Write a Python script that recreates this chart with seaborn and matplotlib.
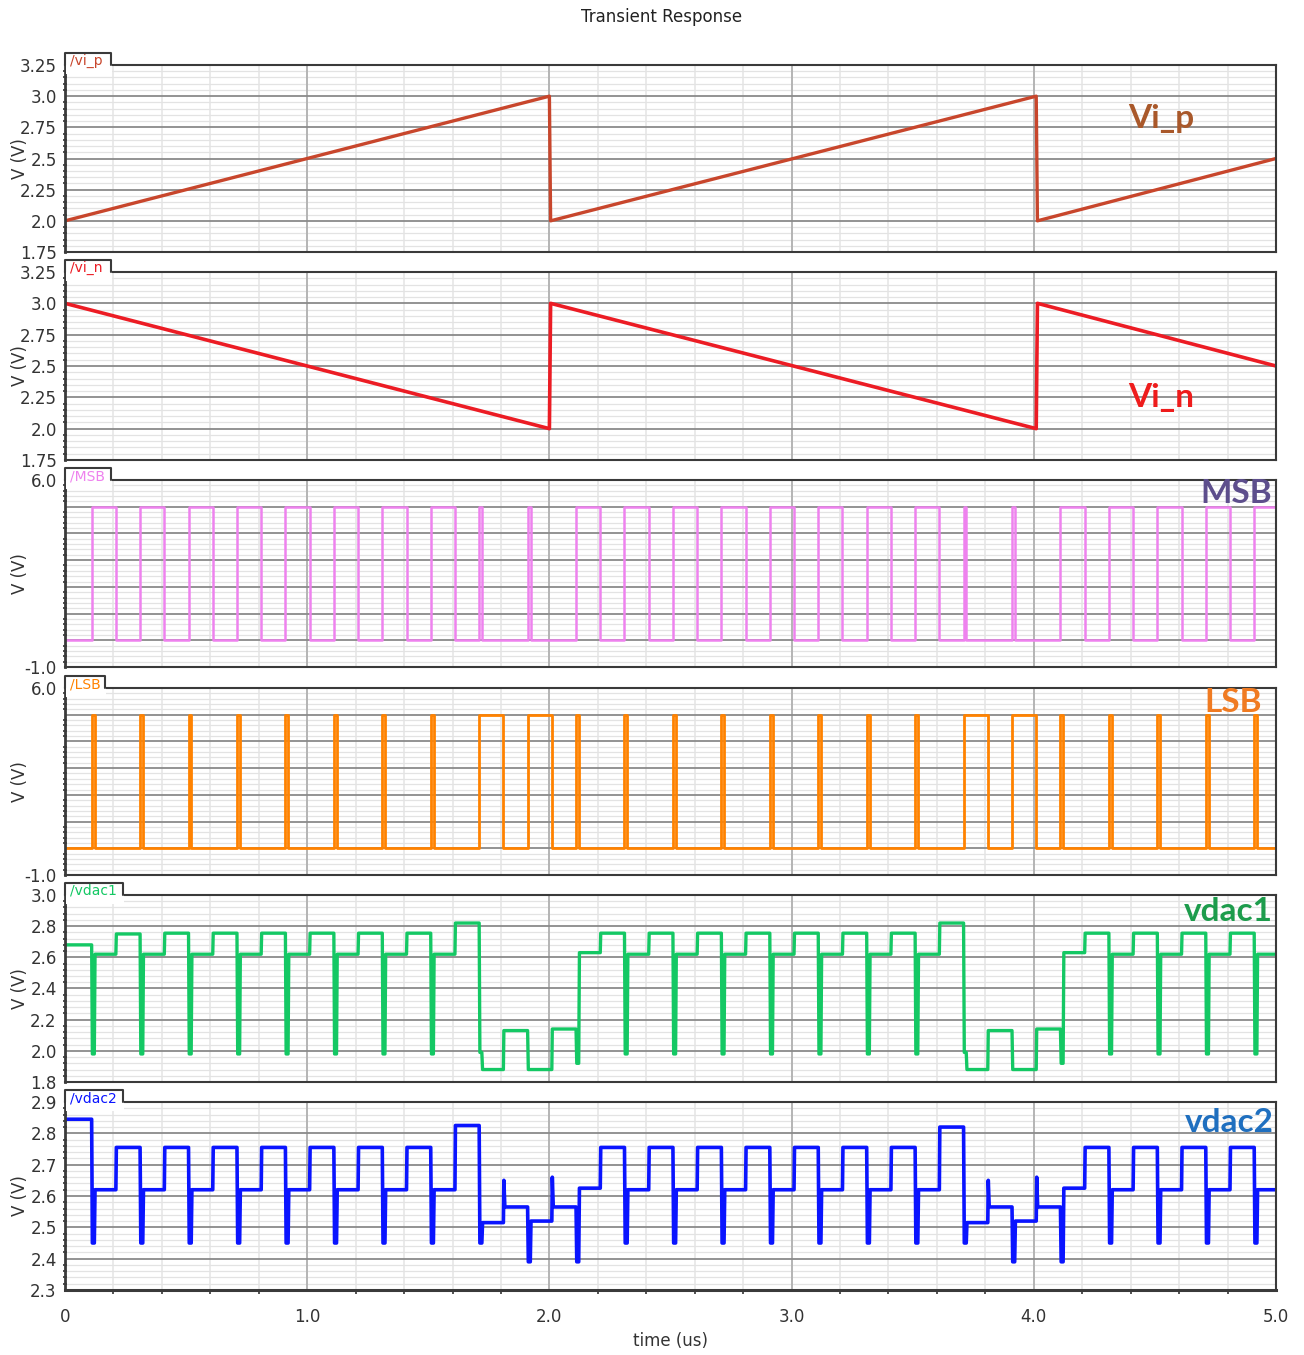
#!/usr/bin/env python3

import matplotlib
matplotlib.use('Agg')
import matplotlib.pyplot as plt
from matplotlib.patches import Rectangle
from matplotlib.ticker import FixedLocator, FixedFormatter, MultipleLocator
import seaborn as sns

# ramp inputs (us, V)
ramp_t = [0.0, 2.0, 2.005, 4.01, 4.015, 5.0]
vi_p = [2.0, 3.0, 2.0, 3.0, 2.0, 2.5]
vi_n = [3.0, 2.0, 3.0, 2.0, 3.0, 2.5]

# conversion instants (us) and the decided bits per cycle
cycle_t = [0.11, 0.31, 0.51, 0.71, 0.91, 1.11, 1.31, 1.51, 1.71, 1.91,
           2.11, 2.31, 2.51, 2.71, 2.91, 3.11, 3.31, 3.51, 3.71, 3.91,
           4.11, 4.31, 4.51, 4.71, 4.91]
msb_bits = [1, 1, 1, 1, 1, 1, 1, 1, 0, 0,
            1, 1, 1, 1, 1, 1, 1, 1, 0, 0,
            1, 1, 1, 1, 1]
lsb_bits = [0, 0, 0, 0, 0, 0, 0, 0, 1, 1,
            0, 0, 0, 0, 0, 0, 0, 0, 1, 1,
            0, 0, 0, 0, 0]

# dac outputs: level after the MSB step (a), after the LSB step (b), dip depth
vdac1_start = 2.68
vdac1_a = [2.62, 2.62, 2.62, 2.62, 2.62, 2.62, 2.62, 2.62, 1.88, 1.88,
           2.63, 2.62, 2.62, 2.62, 2.62, 2.62, 2.62, 2.62, 1.88, 1.88,
           2.63, 2.62, 2.62, 2.62, 2.62]
vdac1_b = [2.75, 2.755, 2.755, 2.755, 2.755, 2.755, 2.755, 2.82, 2.13, 2.14,
           2.755, 2.755, 2.755, 2.755, 2.755, 2.755, 2.755, 2.82, 2.13, 2.14,
           2.755, 2.755, 2.755, 2.755, 2.755]
vdac1_dip = [1.98, 1.98, 1.98, 1.98, 1.98, 1.98, 1.98, 1.98, 1.99, 1.88,
             1.92, 1.98, 1.98, 1.98, 1.98, 1.98, 1.98, 1.98, 1.99, 1.88,
             1.92, 1.98, 1.98, 1.98, 1.98]

vdac2_start = 2.845
vdac2_a = [2.62, 2.62, 2.62, 2.62, 2.62, 2.62, 2.62, 2.62, 2.515, 2.52,
           2.625, 2.62, 2.62, 2.62, 2.62, 2.62, 2.62, 2.62, 2.515, 2.52,
           2.625, 2.62, 2.62, 2.62, 2.62]
vdac2_b = [2.755, 2.755, 2.755, 2.755, 2.755, 2.755, 2.755, 2.825, 2.565, 2.565,
           2.755, 2.755, 2.755, 2.755, 2.755, 2.755, 2.755, 2.82, 2.565, 2.565,
           2.755, 2.755, 2.755, 2.755, 2.755]
vdac2_dip = [2.45, 2.45, 2.45, 2.45, 2.45, 2.45, 2.45, 2.45, 2.45, 2.39,
             2.39, 2.45, 2.45, 2.45, 2.45, 2.45, 2.45, 2.45, 2.45, 2.39,
             2.39, 2.45, 2.45, 2.45, 2.45]
vdac2_kick = [2.755, 2.755, 2.755, 2.755, 2.755, 2.755, 2.755, 2.825, 2.65, 2.66,
              2.755, 2.755, 2.755, 2.755, 2.755, 2.755, 2.755, 2.82, 2.65, 2.66,
              2.755, 2.755, 2.755, 2.755, 2.755]

# axis ticks
x_ticks = [0, 1, 2, 3, 4, 5]
x_ticklabels = ['0', '1.0', '2.0', '3.0', '4.0', '5.0']
vi_ticks = [1.75, 2.0, 2.25, 2.5, 2.75, 3.0, 3.25]
vi_ticklabels = ['1.75', '2.0', '2.25', '2.5', '2.75', '3.0', '3.25']
bit_ticks = [-1, 0, 1, 2, 3, 4, 5, 6]
bit_ticklabels = ['-1.0', '', '', '', '', '', '', '6.0']
vdac1_ticks = [1.8, 2.0, 2.2, 2.4, 2.6, 2.8, 3.0]
vdac1_ticklabels = ['1.8', '2.0', '2.2', '2.4', '2.6', '2.8', '3.0']
vdac2_ticks = [2.3, 2.4, 2.5, 2.6, 2.7, 2.8, 2.9]
vdac2_ticklabels = ['2.3', '2.4', '2.5', '2.6', '2.7', '2.8', '2.9']


def bit_wave(bits, hi=5.0, lo=0.0, hold=0.1, glitch=0.012):
    t, v = [0.0], [lo]
    for t0, b in zip(cycle_t, bits):
        w = hold if b else glitch
        t += [t0, t0, t0 + w, t0 + w]
        v += [lo, hi, hi, lo]
    t.append(5.1)
    v.append(lo)
    return t, v


def dac_wave(start, a, b, dip, kick):
    t, v = [0.0], [start]
    prev = start
    for i, t0 in enumerate(cycle_t):
        t += [t0, t0 + 0.003, t0 + 0.011, t0 + 0.014]
        v += [prev, dip[i], dip[i], a[i]]
        t1 = t0 + 0.1
        t += [t1, t1 + 0.002, t1 + 0.006]
        v += [a[i], kick[i], b[i]]
        prev = b[i]
    t.append(5.1)
    v.append(prev)
    return t, v


sns.set_style('white')
plt.rcParams['font.family'] = ['DejaVu Sans']

W, H = 1304, 1355
fig = plt.figure(figsize=(W / 100, H / 100), dpi=100)
left_px, right_px = 65, 1276
panel_px = [(65, 252), (272, 460), (480, 667), (688, 875), (895, 1082), (1102, 1290)]

msb_t, msb_v = bit_wave(msb_bits)
lsb_t, lsb_v = bit_wave(lsb_bits)
d1_t, d1_v = dac_wave(vdac1_start, vdac1_a, vdac1_b, vdac1_dip, vdac1_b)
d2_t, d2_v = dac_wave(vdac2_start, vdac2_a, vdac2_b, vdac2_dip, vdac2_kick)

panels = [
    dict(t=ramp_t, v=vi_p, color='#c8462c', lw=2.4, name='/vi_p', tab=46,
         ylim=(1.75, 3.25), ticks=vi_ticks, labels=vi_ticklabels, minor=0.05,
         big='Vi_p', big_color='#a9582a', big_xy=(0.905, 0.715), ha='center'),
    dict(t=ramp_t, v=vi_n, color='#ec1c24', lw=2.6, name='/vi_n', tab=46,
         ylim=(1.75, 3.25), ticks=vi_ticks, labels=vi_ticklabels, minor=0.05,
         big='Vi_n', big_color='#ee1c1c', big_xy=(0.905, 0.33), ha='center'),
    dict(t=msb_t, v=msb_v, color='#ee82ee', lw=1.8, name='/MSB', tab=46,
         ylim=(-1, 6), ticks=bit_ticks, labels=bit_ticklabels, minor=0.2,
         big='MSB', big_color='#5d4e8c', big_xy=(0.997, 0.93), ha='right'),
    dict(t=lsb_t, v=lsb_v, color='#ff8200', lw=2.0, name='/LSB', tab=40,
         ylim=(-1, 6), ticks=bit_ticks, labels=bit_ticklabels, minor=0.2,
         big='LSB', big_color='#f07b22', big_xy=(0.988, 0.925), ha='right'),
    dict(t=d1_t, v=d1_v, color='#14c864', lw=2.4, name='/vdac1', tab=58,
         ylim=(1.8, 3.0), ticks=vdac1_ticks, labels=vdac1_ticklabels, minor=0.04,
         big='vdac1', big_color='#1d9c4c', big_xy=(0.997, 0.91), ha='right'),
    dict(t=d2_t, v=d2_v, color='#0a14ff', lw=2.6, name='/vdac2', tab=58,
         ylim=(2.3, 2.9), ticks=vdac2_ticks, labels=vdac2_ticklabels, minor=0.02,
         big='vdac2', big_color='#1f6fbf', big_xy=(0.998, 0.893), ha='right'),
]

for i, (p, (top, bot)) in enumerate(zip(panels, panel_px)):
    hpx = bot - top
    ax = fig.add_axes([left_px / W, 1 - bot / H, (right_px - left_px) / W, hpx / H])
    sns.lineplot(x=p['t'], y=p['v'], ax=ax, color=p['color'], lw=p['lw'],
                 sort=False, estimator=None, legend=False, zorder=3)
    ax.set_xlim(0, 5)
    ax.set_ylim(*p['ylim'])

    ax.xaxis.set_major_locator(FixedLocator(x_ticks))
    ax.xaxis.set_minor_locator(MultipleLocator(0.2))
    ax.yaxis.set_major_locator(FixedLocator(p['ticks']))
    ax.yaxis.set_major_formatter(FixedFormatter(p['labels']))
    ax.yaxis.set_minor_locator(MultipleLocator(p['minor']))

    # light minor grid underneath, solid major lines on top of it
    ax.grid(axis='y', which='minor', color='#e3e3e3', lw=0.9)
    ax.grid(axis='x', which='minor', color='#e4e4e4', lw=1.1)
    ax.set_axisbelow(True)
    for xv in x_ticks:
        ax.axvline(xv, color='#b4b4b4', lw=1.4, zorder=1)
    for yv in p['ticks']:
        ax.axhline(yv, color='#8a8a8a', lw=1.3, zorder=1.2)

    ax.tick_params(axis='y', which='major', direction='out', length=5, width=1.2,
                   color='#333333', labelsize=12, labelcolor='#333333', pad=1)
    ax.tick_params(axis='y', which='minor', direction='inout', length=3, width=1.2,
                   color='#333333', left=True)
    if i < len(panels) - 1:
        ax.tick_params(axis='x', which='both', bottom=False, labelbottom=False)
    else:
        ax.xaxis.set_major_formatter(FixedFormatter(x_ticklabels))
        ax.tick_params(axis='x', which='major', direction='out', length=5, width=1.2,
                       color='#333333', labelsize=12, labelcolor='#333333', pad=8)
        ax.tick_params(axis='x', which='minor', direction='out', length=3, width=1.2,
                       color='#333333', bottom=True)
        ax.set_xlabel('time (us)', fontsize=12, color='#333333', labelpad=4)

    for s in ax.spines.values():
        s.set_color('#3a3a3a')
        s.set_linewidth(1.5)
        s.set_zorder(4)
    ax.spines['left'].set_linewidth(2.0)
    if i == len(panels) - 1:
        ax.spines['bottom'].set_linewidth(2.2)

    ax.set_ylabel('V (V)', fontsize=12, color='#333333')
    ax.yaxis.set_label_coords(-0.03, 0.5)

    # trace name tab
    tw = p['tab'] / (right_px - left_px)
    up = 12 / hpx
    down = 9 / hpx
    ax.add_patch(Rectangle((0.001, 1 - down), tw, up + down, transform=ax.transAxes,
                           facecolor='white', edgecolor='none', clip_on=False, zorder=5))
    ax.plot([0, 0, tw, tw], [1, 1 + up, 1 + up, 1], transform=ax.transAxes,
            color='#3a3a3a', lw=1.5, clip_on=False, zorder=6)
    ax.text(0.004, 1 + up - 1 / hpx, p['name'], transform=ax.transAxes,
            ha='left', va='top', fontsize=10, color=p['color'], zorder=7)

    ax.text(p['big_xy'][0], p['big_xy'][1], p['big'], transform=ax.transAxes,
            ha=p['ha'], va='center', fontsize=24, fontweight='bold',
            family=['Lato', 'DejaVu Sans'], color=p['big_color'], zorder=8)

fig.text(662 / W, 1 - 17 / H, 'Transient Response', ha='center', va='center',
         fontsize=12, color='#222222')

fig.savefig('out.png', dpi=100)
